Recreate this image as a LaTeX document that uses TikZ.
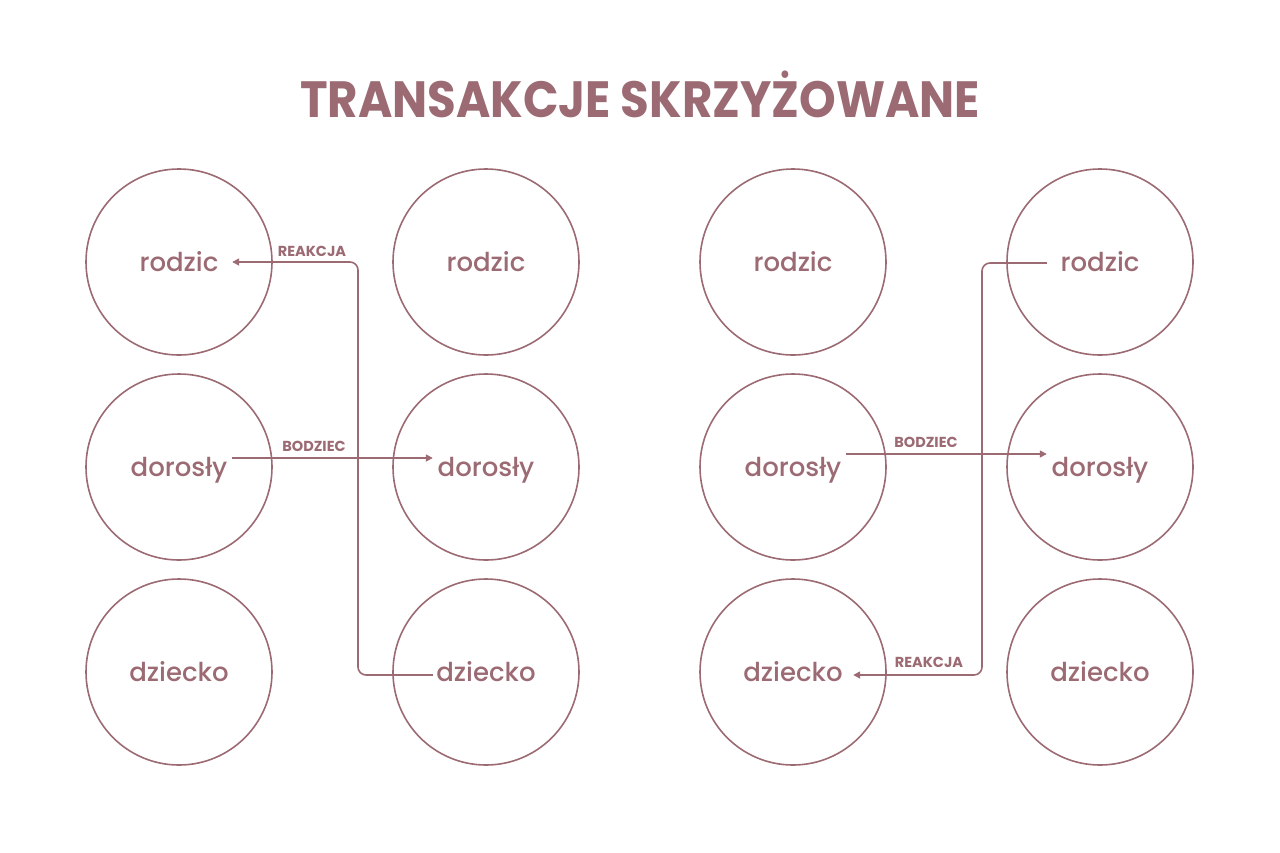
\documentclass[tikz,border=0pt]{standalone}
\usepackage{fontspec}
\setmainfont{Poppins}
\newfontfamily\medium{Poppins Medium}
\usetikzlibrary{arrows.meta}
\definecolor{rose}{HTML}{9B6A73}

\begin{document}
\begin{tikzpicture}[x=1pt, y=-1pt,
        ring/.style={draw=rose, line width=1.6pt, circle, minimum size=186pt, inner sep=0pt},
        word/.style={text=rose, font=\medium\fontsize{26}{30}\selectfont, minimum width=106pt,
            inner sep=0pt, text height=19pt, text depth=1pt},
        tag/.style={text=rose, font=\bfseries\fontsize{14.5}{16}\selectfont, anchor=base, inner sep=0pt},
        link/.style={draw=rose, line width=1.6pt, rounded corners=8pt},
        arr/.style={link, -{Triangle[length=7pt, width=7pt]}}]
    \useasboundingbox (0,0) rectangle (1280,852);

    % title
    \node[text=rose, font=\bfseries\fontsize{51}{56}\selectfont, anchor=base, xscale=0.915] (title)
        at (640,117) {TRANSAKCJE SKRZYŻOWANE};

    % circles and words
    \foreach \n/\x/\y/\t in {rodzicA/179/262/rodzic, doroslyA/179/467/dorosły, dzieckoA/179/672/dziecko,
                             rodzicB/486/262/rodzic, doroslyB/486/467/dorosły, dzieckoB/486/672/dziecko,
                             rodzicC/793/262/rodzic, doroslyC/793/467/dorosły, dzieckoC/793/672/dziecko,
                             rodzicD/1100/262/rodzic, doroslyD/1100/467/dorosły, dzieckoD/1100/672/dziecko}{
        \node[ring] (c\n) at (\x,\y) {};
        \node[word] (\n) at (\x,\y) {\t};
    }

    % left: bodziec
    \draw[arr] ([yshift=9pt]doroslyA.east) -- ([yshift=9pt]doroslyB.west);
    \node[tag] (bodziecL) at (314,451) {BODZIEC};

    % left: reakcja
    \coordinate (bendL) at (358,0);
    \coordinate (startL) at ([yshift=-3pt]dzieckoB.west);
    \coordinate (endL) at (rodzicA.east);
    \draw[arr] (startL) -- (bendL |- startL) -- (bendL |- endL) -- (endL);
    \node[tag] (reakcjaL) at (312,256) {REAKCJA};

    % right: bodziec
    \draw[arr] ([yshift=13pt]doroslyC.east) -- ([yshift=13pt]doroslyD.west);
    \node[tag] (bodziecR) at (926,447) {BODZIEC};

    % right: reakcja
    \coordinate (bendR) at (982,0);
    \coordinate (startR) at ([yshift=-1pt]rodzicD.west);
    \coordinate (endR) at ([xshift=7pt, yshift=-3pt]dzieckoC.east);
    \draw[arr] (startR) -- (bendR |- startR) -- (bendR |- endR) -- (endR);
    \node[tag] (reakcjaR) at (929,667) {REAKCJA};
\end{tikzpicture}
\end{document}
